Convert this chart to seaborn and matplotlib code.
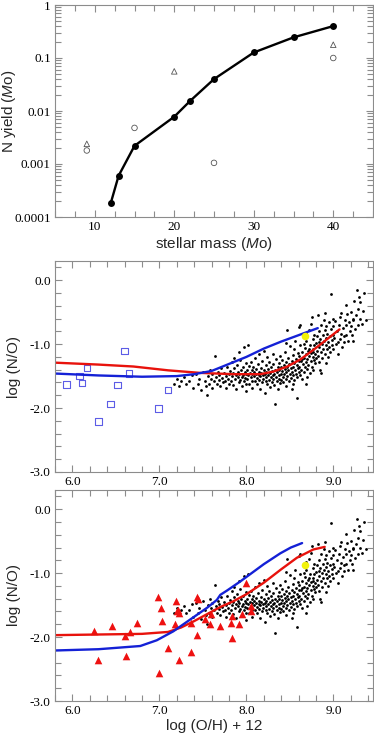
import numpy as np
import pandas as pd
import matplotlib
matplotlib.use("Agg")
import matplotlib.pyplot as plt
from matplotlib.ticker import MultipleLocator, LogLocator, FixedLocator, NullFormatter, FuncFormatter
import seaborn as sns

# ---------------- top panel: N yield vs stellar mass ----------------
mass_model = [12, 13, 15, 20, 22, 25, 30, 35, 40]
yield_model = [0.00018, 0.0006, 0.0022, 0.0078, 0.0155, 0.040, 0.127, 0.245, 0.40]
mass_tri = [9, 20, 40]
yield_tri = [0.0024, 0.056, 0.178]
mass_circ = [9, 15, 25, 40]
yield_circ = [0.0018, 0.0048, 0.00105, 0.1]

# ---------------- observed galaxies cloud (log O/H + 12, log N/O) ----------------
cloud = [
    (7.17,-1.62),(7.20,-1.55),(7.22,-1.66),(7.25,-1.58),(7.28,-1.52),(7.31,-1.63),(7.34,-1.57),(7.37,-1.49),(7.39,-1.68),
    (7.42,-1.47),(7.44,-1.62),(7.46,-1.55),(7.48,-1.71),(7.50,-1.44),(7.52,-1.58),(7.53,-1.66),(7.55,-1.80),(7.56,-1.50),
    (7.57,-1.62),(7.58,-1.41),(7.59,-1.55),(7.60,-1.68),
    (7.61,-1.47),(7.63,-1.58),(7.64,-1.19),(7.65,-1.52),(7.66,-1.63),(7.67,-1.43),(7.68,-1.56),(7.69,-1.49),(7.70,-1.66),
    (7.71,-1.38),(7.72,-1.53),(7.73,-1.60),(7.74,-1.45),(7.75,-1.57),(7.76,-1.50),(7.77,-1.68),(7.78,-1.35),(7.79,-1.55),
    (7.80,-1.47),(7.80,-1.62),
    (7.81,-1.42),(7.82,-1.57),(7.83,-1.28),(7.84,-1.50),(7.85,-1.64),(7.85,-1.45),(7.86,-1.38),(7.87,-1.55),(7.88,-1.48),
    (7.88,-1.70),(7.89,-1.33),(7.90,-1.52),(7.90,-1.43),(7.91,-1.60),(7.92,-1.47),(7.93,-1.25),(7.93,-1.56),(7.94,-1.40),
    (7.95,-1.51),(7.95,-1.66),(7.96,-1.36),(7.96,-1.49),(7.97,-1.58),(7.97,-1.05),(7.98,-1.44),(7.98,-1.53),(7.99,-1.73),
    (7.99,-1.30),(8.00,-1.47),(8.00,-1.62),(7.91,-1.12),(7.86,-1.22),
    (8.01,-1.40),(8.01,-1.55),(8.02,-1.02),(8.02,-1.48),(8.03,-1.34),(8.03,-1.63),(8.04,-1.45),(8.05,-1.52),(8.05,-1.28),
    (8.06,-1.41),(8.06,-1.58),(8.07,-1.47),(8.07,-1.68),(8.08,-1.36),(8.09,-1.50),(8.09,-1.44),(8.10,-1.22),(8.10,-1.57),
    (8.11,-1.46),(8.11,-1.39),(8.12,-1.53),(8.12,-1.62),(8.13,-1.31),(8.14,-1.48),(8.14,-1.43),(8.15,-1.56),(8.15,-1.15),
    (8.16,-1.50),(8.16,-1.70),(8.17,-1.37),(8.17,-1.45),(8.18,-1.59),(8.18,-1.27),(8.19,-1.48),(8.19,-1.54),(8.20,-1.41),
    (8.20,-1.10),
    (8.21,-1.76),(8.21,-1.47),(8.22,-1.33),(8.22,-1.58),(8.23,-1.44),(8.23,-1.51),(8.24,-1.20),(8.24,-1.63),(8.25,-1.39),
    (8.25,-1.49),(8.26,-1.56),(8.26,-1.28),(8.27,-1.45),(8.27,-1.67),(8.28,-1.52),(8.28,-1.36),(8.29,-1.60),(8.29,-1.42),
    (8.30,-1.48),(8.30,-1.15),(8.31,-1.55),(8.31,-1.31),(8.32,-1.46),(8.32,-1.64),(8.33,-1.94),(8.33,-1.40),(8.34,-1.51),
    (8.34,-1.24),(8.35,-1.58),(8.35,-1.44),(8.36,-1.36),(8.36,-1.70),(8.37,-1.49),(8.37,-1.29),(8.38,-1.54),(8.38,-1.41),
    (8.39,-1.61),(8.39,-1.18),(8.40,-1.47),(8.40,-1.35),(8.40,-1.56),
    (8.41,-1.42),(8.41,-1.25),(8.42,-1.52),(8.42,-1.60),(8.43,-1.33),(8.43,-1.46),(8.44,-1.12),(8.44,-1.39),(8.45,-1.55),
    (8.45,-1.28),(8.46,-1.44),(8.46,-1.66),(8.47,-0.78),(8.47,-1.36),(8.47,-1.50),(8.48,-1.21),(8.48,-1.41),(8.49,-1.58),
    (8.49,-1.31),(8.50,-1.47),(8.50,-1.03),(8.51,-1.38),(8.51,-1.53),(8.52,-1.26),(8.52,-1.44),(8.53,-1.62),(8.53,-1.17),
    (8.54,-1.35),(8.54,-1.48),(8.55,-1.29),(8.55,-1.56),(8.56,-1.40),(8.56,-0.95),(8.57,-1.23),(8.57,-1.46),(8.58,-1.85),
    (8.58,-1.33),(8.58,-1.52),(8.59,-1.14),(8.59,-1.38),(8.60,-1.27),(8.60,-1.43),(8.60,-0.73),(8.55,-1.08),(8.45,-0.98),
    (8.52,-1.70),
    (8.61,-1.35),(8.61,-1.18),(8.62,-1.48),(8.62,-1.02),(8.63,-1.26),(8.63,-1.40),(8.64,-1.12),(8.64,-1.55),(8.65,-0.88),
    (8.65,-1.31),(8.66,-1.21),(8.66,-1.44),(8.67,-1.06),(8.67,-1.36),(8.68,-1.16),(8.68,-1.28),(8.69,-1.63),(8.69,-0.95),
    (8.70,-1.23),(8.70,-1.39),(8.71,-1.10),(8.71,-1.32),(8.72,-0.78),(8.72,-1.19),(8.73,-1.45),(8.73,-1.02),(8.74,-1.27),
    (8.74,-1.14),(8.75,-0.57),(8.75,-1.35),(8.76,-0.92),(8.76,-1.20),(8.77,-1.08),(8.77,-1.41),(8.78,-1.25),(8.78,-0.85),
    (8.79,-1.15),(8.79,-1.30),(8.80,-0.98),(8.80,-1.22),(8.62,-0.70),(8.68,-0.82),(8.70,-1.52),(8.74,-0.68),(8.66,-1.00),
    (8.72,-1.08),(8.78,-1.02),(8.64,-1.24),(8.76,-1.12),
    (8.81,-1.10),(8.81,-0.88),(8.82,-0.55),(8.82,-1.18),(8.83,-0.96),(8.83,-1.28),(8.84,-1.05),(8.84,-0.80),(8.85,-1.40),
    (8.85,-0.92),(8.86,-1.13),(8.86,-0.70),(8.87,-1.00),(8.87,-1.22),(8.88,-0.86),(8.88,-1.08),(8.89,-0.63),(8.89,-0.95),
    (8.90,-1.15),(8.90,-0.78),(8.91,-1.30),(8.91,-1.02),(8.92,-0.90),(8.92,-0.72),(8.93,-1.08),(8.93,-0.84),(8.94,-1.20),
    (8.94,-0.97),(8.95,-0.66),(8.95,-1.04),(8.96,-0.88),(8.96,-1.12),(8.97,-0.21),(8.97,-0.76),(8.98,-0.94),(8.98,-1.02),
    (8.99,-0.60),(8.99,-0.85),(9.00,-1.08),(9.00,-0.72),(8.86,-1.45),(8.90,-0.52),
    (9.01,-0.90),(9.02,-0.64),(9.03,-1.00),(9.04,-0.80),(9.05,-1.15),(9.06,-0.70),(9.07,-0.92),(9.08,-0.58),(9.09,-0.52),
    (9.09,-0.84),(9.10,-1.05),(9.11,-0.75),(9.12,-0.96),(9.13,-0.62),(9.14,-0.39),(9.14,-0.86),(9.15,-0.70),(9.16,-0.53),
    (9.17,-0.95),(9.18,-0.66),(9.19,-0.80),(9.20,-0.50),(9.20,-0.72),(9.05,-0.96),(9.12,-0.88),
    (9.21,-0.85),(9.22,-0.60),(9.23,-0.63),(9.24,-0.32),(9.25,-0.76),(9.26,-0.55),(9.27,-0.16),(9.28,-0.45),(9.29,-0.27),
    (9.30,-0.34),(9.31,-0.60),(9.33,-0.69),(9.34,-0.48),(9.35,-0.20),(9.37,-0.62),(9.22,-0.95),(9.28,-0.70),
]
cloud_oh = [p[0] for p in cloud]
cloud_no = [p[1] for p in cloud]

sun_oh = [8.67]
sun_no = [-0.87]

# middle panel: blue open squares
sq_oh = [5.93, 6.08, 6.11, 6.17, 6.30, 6.44, 6.52, 6.60, 6.65, 6.99, 7.10]
sq_no = [-1.63, -1.50, -1.61, -1.37, -2.21, -1.94, -1.64, -1.11, -1.46, -2.01, -1.72]

# middle panel model curves
mid_blue_oh = [5.80, 6.30, 6.80, 7.20, 7.40, 7.60, 7.80, 8.00, 8.20, 8.40, 8.60, 8.82]
mid_blue_no = [-1.46, -1.49, -1.51, -1.50, -1.47, -1.42, -1.31, -1.20, -1.07, -0.96, -0.86, -0.75]
mid_red_oh = [5.80, 6.30, 6.70, 7.10, 7.47, 7.85, 8.16, 8.31, 8.47, 8.62, 8.77, 8.93, 9.07]
mid_red_no = [-1.29, -1.32, -1.35, -1.41, -1.45, -1.47, -1.47, -1.43, -1.35, -1.24, -1.09, -0.92, -0.77]

# bottom panel: red triangles
tri_oh = [6.25, 6.45, 6.29, 6.61, 6.66, 6.62, 6.74, 6.98, 7.02, 7.03, 6.99, 7.10, 7.19, 7.18, 7.21,
          7.23, 7.23, 7.20, 7.36, 7.36, 7.43, 7.44, 7.43, 7.52, 7.59, 7.58, 7.70, 7.82, 7.83, 7.83,
          7.92, 7.95, 7.99, 8.05, 8.05]
tri_no = [-1.91, -1.82, -2.36, -1.98, -1.92, -2.29, -1.78, -1.38, -1.55, -1.75, -2.56, -2.17, -1.43, -1.79, -1.58,
          -1.63, -2.36, -1.60, -2.23, -1.78, -1.38, -1.41, -1.96, -1.72, -1.64, -1.79, -1.83, -1.78, -1.67, -2.01,
          -1.79, -1.64, -1.15, -1.52, -1.59]

# bottom panel model curves
bot_blue_oh = [5.80, 6.30, 6.78, 6.97, 7.16, 7.36, 7.55, 7.66, 7.70, 7.78, 7.93, 8.01, 8.20, 8.39, 8.51, 8.64]
bot_blue_no = [-2.21, -2.19, -2.14, -2.05, -1.91, -1.72, -1.54, -1.42, -1.34, -1.27, -1.13, -1.05, -0.86, -0.69, -0.60, -0.53]
bot_red_oh = [5.80, 6.80, 7.10, 7.25, 7.40, 7.55, 7.70, 7.85, 8.00, 8.20, 8.40, 8.58, 8.77, 8.90]
bot_red_no = [-1.97, -1.95, -1.92, -1.85, -1.75, -1.64, -1.53, -1.44, -1.33, -1.15, -0.94, -0.76, -0.63, -0.59]

# ---------------- styling ----------------
sns.set_style("ticks")
plt.rcParams['font.family'] = ['Liberation Sans', 'DejaVu Sans']
plt.rcParams['mathtext.fontset'] = 'custom'
plt.rcParams['mathtext.it'] = 'Liberation Sans:italic'
plt.rcParams['mathtext.rm'] = 'Liberation Sans'

W, H = 374, 738
fig = plt.figure(figsize=(W / 100, H / 100), dpi=100)

def px_axes(left, top, right, bottom):
    return fig.add_axes([left / W, 1 - bottom / H, (right - left) / W, (bottom - top) / H])

ax1 = px_axes(55, 5, 373, 217)
ax2 = px_axes(55, 261, 373, 472)
ax3 = px_axes(55, 490, 373, 701)

spine_col = '#8c8c8c'
lab_size = 11

for ax in (ax1, ax2, ax3):
    ax.tick_params(which='both', direction='in', top=True, right=True, color=spine_col,
                   labelcolor='black', width=0.8)
    ax.tick_params(which='major', length=5, pad=3)
    ax.tick_params(which='minor', length=4)
    for s in ax.spines.values():
        s.set_color(spine_col)
        s.set_linewidth(0.8)

# ---- top panel ----
sns.lineplot(x=mass_model, y=yield_model, ax=ax1, color='black', lw=1.7, marker='o',
             markersize=5, markeredgewidth=0, sort=False, estimator=None)
sns.scatterplot(x=mass_tri, y=yield_tri, ax=ax1, marker='^', s=16, facecolor='none',
                edgecolor='#555555', linewidth=0.6)
sns.scatterplot(x=mass_circ, y=yield_circ, ax=ax1, marker='o', s=16, facecolor='none',
                edgecolor='#555555', linewidth=0.6)
ax1.set_yscale('log')
ax1.set_xlim(5, 45)
ax1.set_ylim(1e-4, 1)
ax1.xaxis.set_major_locator(FixedLocator([10, 20, 30, 40]))
ax1.xaxis.set_minor_locator(MultipleLocator(2.5))
ax1.yaxis.set_major_locator(LogLocator(base=10, numticks=10))
ax1.yaxis.set_minor_locator(LogLocator(base=10, subs=np.arange(2, 10), numticks=20))
ax1.yaxis.set_minor_formatter(NullFormatter())
ax1.yaxis.set_major_formatter(FuncFormatter(lambda v, p: {1: '1', 0.1: '0.1', 0.01: '0.01',
                                                          0.001: '0.001', 0.0001: '0.0001'}.get(round(v, 6), '')))
ax1.set_xlabel('stellar mass ($\\it{M}$o)', fontsize=lab_size, labelpad=1)
ax1.set_ylabel('N yield ($\\it{M}$o)', fontsize=lab_size)
ax1.yaxis.set_label_coords((18 - 55) / 318, 0.5)

# ---- middle & bottom panels ----
cloud_df = pd.DataFrame({'oh': cloud_oh, 'no': cloud_no})
for ax in (ax2, ax3):
    sns.scatterplot(data=cloud_df, x='oh', y='no', ax=ax, color='black', s=4, linewidth=0, marker='o')

sns.lineplot(x=mid_red_oh, y=mid_red_no, ax=ax2, color='#e8120c', lw=1.7, sort=False, estimator=None)
sns.lineplot(x=mid_blue_oh, y=mid_blue_no, ax=ax2, color='#1421d6', lw=1.7, sort=False, estimator=None)
sns.scatterplot(x=sq_oh, y=sq_no, ax=ax2, marker='s', s=22, facecolor='none',
                edgecolor='#5c5ce6', linewidth=0.8)
sns.scatterplot(x=sun_oh, y=sun_no, ax=ax2, color='#f2f20a', s=30, linewidth=0, zorder=5)

sns.lineplot(x=bot_red_oh, y=bot_red_no, ax=ax3, color='#e8120c', lw=1.7, sort=False, estimator=None)
sns.lineplot(x=bot_blue_oh, y=bot_blue_no, ax=ax3, color='#1421d6', lw=1.7, sort=False, estimator=None)
sns.scatterplot(x=tri_oh, y=tri_no, ax=ax3, marker='^', s=30, color='#ee1111', linewidth=0)
sns.scatterplot(x=sun_oh, y=sun_no, ax=ax3, color='#f2f20a', s=30, linewidth=0, zorder=5)

for ax in (ax2, ax3):
    ax.set_xlim(5.8, 9.455)
    ax.set_ylim(-3.0, 0.3)
    ax.xaxis.set_major_locator(FixedLocator([6.0, 7.0, 8.0, 9.0]))
    ax.xaxis.set_minor_locator(MultipleLocator(0.2))
    ax.yaxis.set_major_locator(FixedLocator([-3.0, -2.0, -1.0, 0.0]))
    ax.yaxis.set_minor_locator(MultipleLocator(0.2))
    ax.xaxis.set_major_formatter(FuncFormatter(lambda v, p: f'{v:.1f}'))
    ax.yaxis.set_major_formatter(FuncFormatter(lambda v, p: f'{v:.1f}'.replace('\u2212', '-')))
    ax.set_ylabel('log (N/O)', fontsize=lab_size)
    ax.yaxis.set_label_coords((21 - 55) / 318, 0.5)
ax2.set_xlabel('')
ax3.set_xlabel('log (O/H) + 12', fontsize=lab_size, labelpad=1)

for ax in (ax1, ax2, ax3):
    for lab in ax.get_xticklabels() + ax.get_yticklabels():
        lab.set_fontfamily('Liberation Serif')
        lab.set_fontsize(9.5)

fig.savefig('out.png', dpi=100)
